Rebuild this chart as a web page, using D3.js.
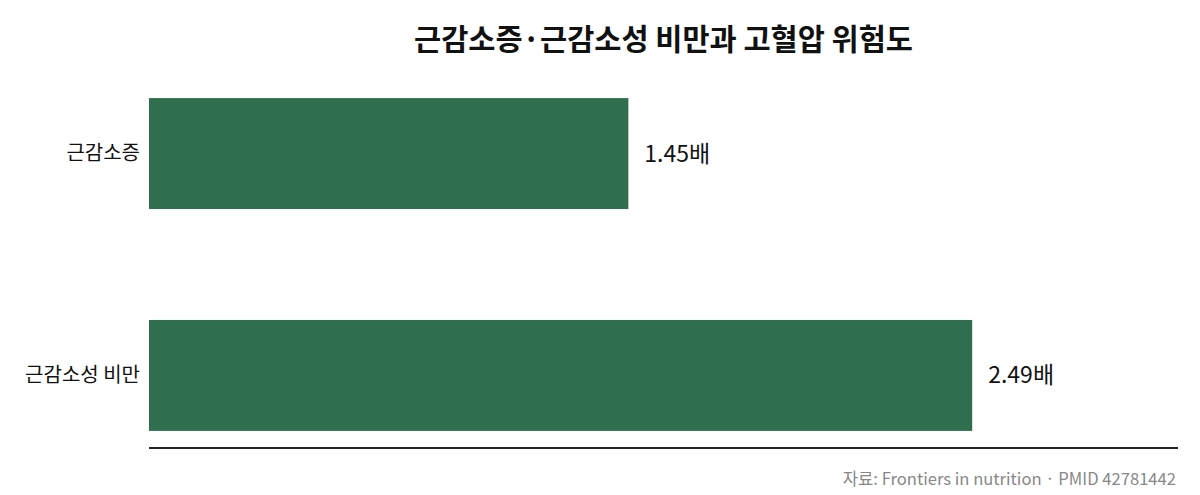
<!DOCTYPE html>
<html>
<head>
<meta charset="utf-8">
<script src="https://cdn.jsdelivr.net/npm/d3@7"></script>
<style>
  body { margin: 0; background: #fff; }
  svg { display: block; font-family: "Noto Sans CJK KR", "Noto Sans", sans-serif; }
</style>
</head>
<body>
<svg width="1200" height="495"></svg>
<script>
// chart data
const categories = ['근감소증', '근감소성 비만'];
const values = [1.45, 2.49];
const unit = '배';
const title = '근감소증·근감소성 비만과 고혈압 위험도';
const source = '자료: Frontiers in nutrition · PMID 42781442';

const margin = { top: 81, right: 22, bottom: 47, left: 149 };
const width = 1200, height = 495;

const svg = d3.select('svg');

const x = d3.scaleLinear()
  .domain([0, d3.max(values) * 1.25])
  .range([margin.left, width - margin.right]);

const y = d3.scaleBand()
  .domain(categories)
  .range([margin.top, height - margin.bottom])
  .paddingInner(0.5)
  .paddingOuter(0.077);

// bars
svg.selectAll('.bar')
  .data(categories)
  .enter().append('rect')
  .attr('class', 'bar')
  .attr('x', x(0))
  .attr('y', d => y(d))
  .attr('width', (d, i) => x(values[i]) - x(0))
  .attr('height', y.bandwidth())
  .attr('fill', '#2f6f4f');

// value labels
svg.selectAll('.val')
  .data(categories)
  .enter().append('text')
  .attr('class', 'val')
  .attr('x', (d, i) => x(values[i]) + 16)
  .attr('y', d => y(d) + y.bandwidth() / 2)
  .attr('dy', '0.35em')
  .attr('font-size', 23)
  .attr('fill', '#111')
  .text((d, i) => values[i].toFixed(2) + unit);

// category axis (labels only)
const yAxis = svg.append('g')
  .attr('transform', `translate(${margin.left},0)`)
  .call(d3.axisLeft(y).tickSize(0).tickPadding(9));
yAxis.select('.domain').remove();
yAxis.selectAll('text')
  .attr('font-size', 20)
  .attr('font-family', '"Noto Sans CJK KR", sans-serif')
  .attr('fill', '#111');

// baseline
svg.append('line')
  .attr('x1', x.range()[0])
  .attr('x2', x.range()[1])
  .attr('y1', height - margin.bottom)
  .attr('y2', height - margin.bottom)
  .attr('stroke', '#222')
  .attr('stroke-width', 2);

// title
svg.append('text')
  .attr('x', (x.range()[0] + x.range()[1]) / 2)
  .attr('y', 50)
  .attr('text-anchor', 'middle')
  .attr('font-size', 29.5)
  .attr('font-weight', 'bold')
  .attr('fill', '#111')
  .text(title);

// source
svg.append('text')
  .attr('x', 1176)
  .attr('y', 485)
  .attr('text-anchor', 'end')
  .attr('font-size', 16.6)
  .attr('fill', '#888')
  .text(source);
</script>
</body>
</html>
